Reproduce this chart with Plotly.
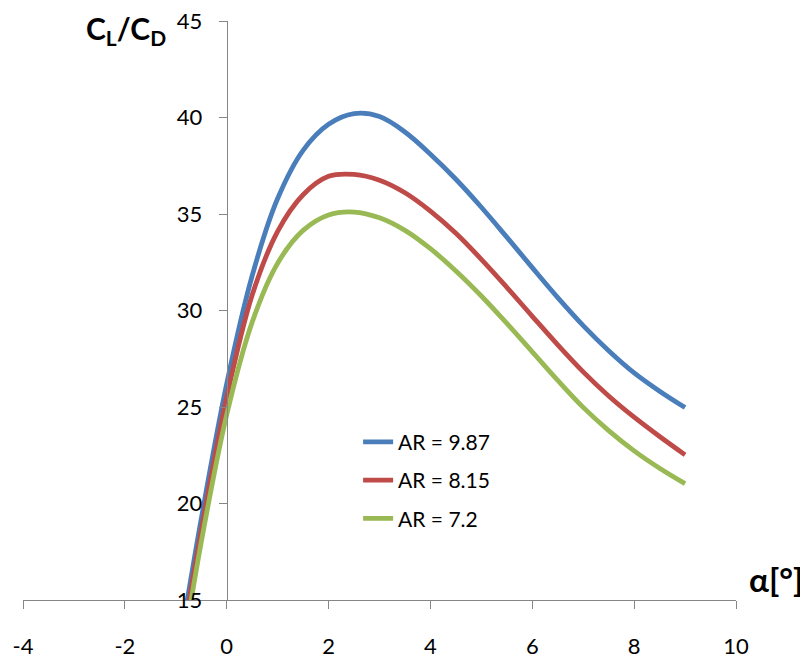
import plotly.graph_objects as go

# angle of attack [deg] shared by the three series (first point lies below the axis and is clipped)
alpha = [-1.0, -0.5, 0.0, 0.5, 1.0, 1.5, 2.0, 2.5, 3.0, 3.5, 4.0, 4.5, 5.0, 5.5, 6.0, 6.5, 7.0, 7.5, 8.0, 8.5, 9.0]

# C_L/C_D for each aspect ratio
ld_987 = [11.4, 19.2, 26.2, 31.8, 35.8, 38.3, 39.65, 40.2, 40.05, 39.25, 38.1, 36.8, 35.35, 33.8, 32.22, 30.67, 29.22, 27.92, 26.77, 25.82, 24.97]
ld_815 = [10.8, 18.6, 25.5, 30.8, 34.1, 36.0, 36.95, 37.05, 36.75, 36.1, 35.15, 34.0, 32.65, 31.2, 29.7, 28.22, 26.82, 25.57, 24.47, 23.47, 22.52]
ld_72 = [10.1, 18.0, 24.6, 29.4, 32.45, 34.15, 34.95, 35.1, 34.8, 34.15, 33.2, 32.05, 30.75, 29.33, 27.86, 26.38, 24.98, 23.78, 22.73, 21.83, 21.03]

series_names = ["AR = 9.87", "AR = 8.15", "AR = 7.2"]
series_colors = ["#4A7EBB", "#BE4B48", "#98B954"]

x_ticks = [-4, -2, 0, 2, 4, 6, 8, 10]
y_ticks = [15, 20, 25, 30, 35, 40, 45]

FONT = "Lato"
AXIS_COLOR = "#868686"

fig = go.Figure()
for i, ys in enumerate([ld_987, ld_815, ld_72]):
    fig.add_trace(go.Scatter(
        x=alpha, y=ys, mode="lines", name=series_names[i],
        legendgroup=f"g{i}",
        line=dict(color=series_colors[i], width=4.8, shape="spline", smoothing=1.0),
    ))

# the page body adds an 8px offset, so the figure is 8px smaller than the window
fig.update_layout(
    width=800, height=652,
    margin=dict(l=15, r=72, t=13, b=60, autoexpand=False),
    paper_bgcolor="white", plot_bgcolor="white",
    font=dict(family=FONT, size=22, color="#000000"),
    showlegend=True,
    legend=dict(
        x=0.470, y=0.308, xanchor="left", yanchor="top",
        bgcolor="rgba(0,0,0,0)", borderwidth=0,
        font=dict(family=FONT, size=21, color="#000000"),
        tracegroupgap=8,
    ),
    xaxis=dict(
        range=[-4, 10], tickvals=x_ticks, ticktext=[str(v) for v in x_ticks],
        showgrid=False, zeroline=False,
        showline=True, linecolor=AXIS_COLOR, linewidth=1.3,
        ticks="outside", ticklen=8, tickwidth=1.3, tickcolor=AXIS_COLOR,
        ticklabelstandoff=18, ticklabeloverflow="allow",
        tickfont=dict(family=FONT, size=22, color="#000000"),
        anchor="y", automargin=False,
    ),
    yaxis=dict(
        range=[15, 45], tickvals=y_ticks, ticktext=[str(v) for v in y_ticks],
        showgrid=False, zeroline=False,
        showline=True, linecolor=AXIS_COLOR, linewidth=1.3,
        ticks="outside", ticklen=8, tickwidth=1.3, tickcolor=AXIS_COLOR,
        ticklabelstandoff=12, ticklabeloverflow="allow",
        tickfont=dict(family=FONT, size=22, color="#000000"),
        anchor="free", position=4 / 14, automargin=False,
    ),
    annotations=[
        dict(text="<b>C<sub>L</sub>/C<sub>D</sub></b>", xref="paper", yref="paper",
             x=(84 - 23) / 713, y=0.985, xanchor="left", yanchor="middle", showarrow=False,
             font=dict(family=FONT, size=30, color="#000000")),
        dict(text="<b>α[°]</b>", xref="paper", yref="paper",
             x=(805 - 23) / 713, y=0.036, xanchor="right", yanchor="middle", showarrow=False,
             font=dict(family=FONT, size=33, color="#000000")),
    ],
)

fig.write_html("out.html")
